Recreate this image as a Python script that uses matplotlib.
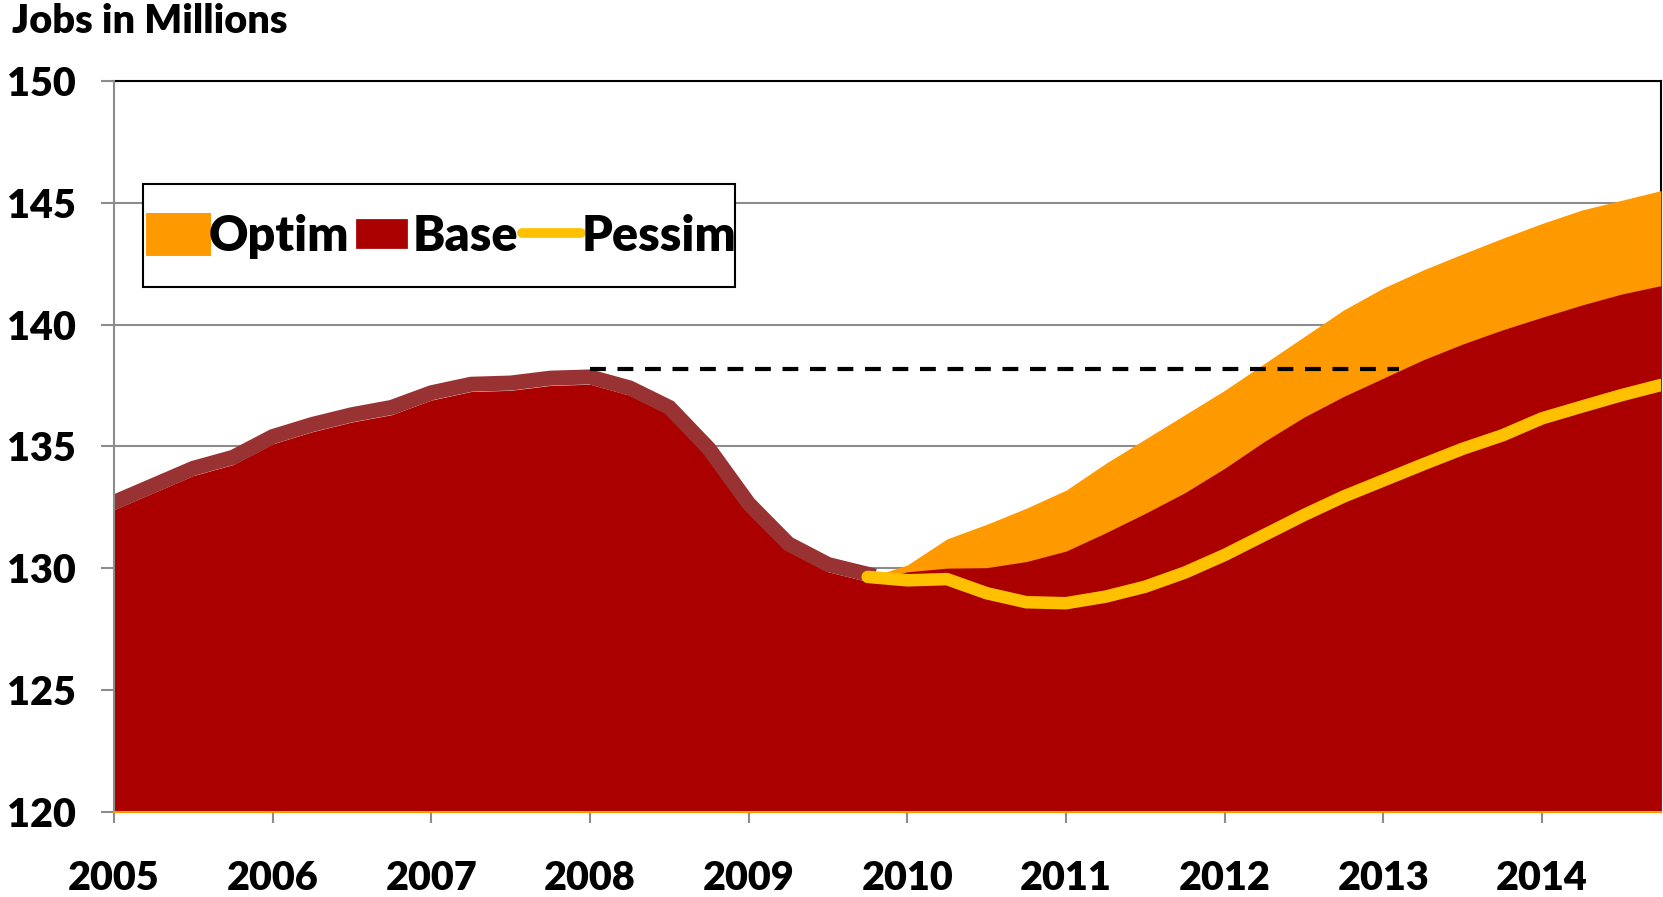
import numpy as np
import matplotlib.pyplot as plt
from matplotlib.patches import Patch, Rectangle, Shadow
from matplotlib.lines import Line2D

plt.rcParams['font.family'] = ['Lato', 'DejaVu Sans']
plt.rcParams['font.weight'] = 'heavy'

# quarterly data, 2005Q1 .. 2014Q4
quarters = 2005 + 0.25 * np.arange(40)

# base case (red area)
base = [132.4, 133.1, 133.8, 134.25, 135.1, 135.6, 136.0, 136.3, 136.9, 137.25,
        137.3, 137.5, 137.55, 137.1, 136.3, 134.6, 132.35, 130.7, 129.85, 129.45,
        129.85, 130.0, 130.02, 130.27, 130.7, 131.45, 132.25, 133.1, 134.1, 135.2,
        136.2, 137.05, 137.8, 138.55, 139.2, 139.78, 140.3, 140.8, 141.25, 141.6]

# actual history line (drawn on top of the area, up to 2009Q4)
hist = [132.7, 133.4, 134.1, 134.55, 135.4, 135.9, 136.3, 136.6, 137.2, 137.55,
        137.6, 137.8, 137.85, 137.4, 136.6, 134.9, 132.65, 131.0, 130.15, 129.75]

# forecasts from 2009Q4 on
fc_quarters = quarters[19:]
optim = [129.6, 130.13, 131.2, 131.8, 132.46, 133.2, 134.3, 135.3, 136.3, 137.3,
         138.4, 139.5, 140.6, 141.5, 142.24, 142.9, 143.54, 144.15, 144.7, 145.1, 145.5]
pessim = [129.64, 129.5, 129.55, 128.97, 128.6, 128.56, 128.83, 129.24, 129.82, 130.54,
          131.36, 132.18, 132.94, 133.6, 134.26, 134.9, 135.45, 136.15, 136.63, 137.1, 137.52]

# previous peak level
peak_x = [2008.0, 2013.1]
peak_y = [138.18, 138.18]

years = list(range(2005, 2015))
yticks = [120, 125, 130, 135, 140, 145, 150]

c_opt = '#FF9900'
c_base = '#AA0000'
c_hist = '#993333'
c_pes = '#FFC000'
grid_c = '#8C8C8C'

fig = plt.figure(figsize=(16.63, 8.97), dpi=100)
ax = fig.add_axes([114/1663, 1 - 811.7/897, (1661-114)/1663, 730.7/897])

ax.fill_between(fc_quarters, 120, optim, color=c_opt, lw=0, zorder=2)
ax.fill_between(quarters, 120, base, color=c_base, lw=0, zorder=2.1)
ax.plot(quarters[:20], hist, color=c_hist, lw=10.8, solid_joinstyle='miter', zorder=3)
ax.plot(fc_quarters, pessim, color=c_pes, lw=9, solid_capstyle='round',
        solid_joinstyle='round', zorder=3.1)
ax.plot(peak_x, peak_y, color='black', lw=3, dashes=(3.8, 2.8), zorder=3.2)

ax.set_xlim(2005, 2014.75)
ax.set_ylim(120, 150)
ax.set_xticks(years)
ax.set_xticklabels([str(y) for y in years])
ax.set_yticks(yticks)
ax.tick_params(axis='y', direction='out', length=9.5, width=1.5, color=grid_c,
               labelsize=28.5, pad=18)
ax.tick_params(axis='x', direction='out', length=8, width=1.5, color=grid_c,
               labelsize=28.5, pad=27)
for lab in ax.get_xticklabels() + ax.get_yticklabels():
    lab.set_fontweight('heavy')

ax.grid(axis='y', color=grid_c, lw=1.5, zorder=0)
ax.set_axisbelow(True)

ax.spines['left'].set_color(grid_c)
ax.spines['left'].set_linewidth(1.5)
ax.spines['left'].set_zorder(4)
ax.spines['bottom'].set_color(c_opt)
ax.spines['bottom'].set_linewidth(1.5)
ax.spines['bottom'].set_zorder(4)
ax.spines['top'].set_color('black')
ax.spines['top'].set_linewidth(1.5)
ax.spines['right'].set_color('black')
ax.spines['right'].set_linewidth(1.5)
ax.spines['right'].set_zorder(1)

# legend box drawn by hand (tight left/right, tall top/bottom)
box = Rectangle((0.01875, 0.7174), 0.3827, 0.1423, transform=ax.transAxes,
                facecolor='white', edgecolor='black', lw=1.5, zorder=4.9)
shadow = Shadow(box, 3, -3, facecolor='0.85', alpha=0.6, zorder=4.8, lw=0)
ax.add_patch(shadow)
ax.add_patch(box)

handles = [Patch(facecolor=c_opt, edgecolor=c_opt, lw=5, joinstyle='round'),
           Patch(facecolor=c_base, edgecolor='white', lw=4.5),
           Line2D([], [], color=c_pes, lw=7, solid_capstyle='round')]
leg = ax.legend(handles, ['Optim', 'Base', 'Pessim'], ncol=3,
                loc='center left', bbox_to_anchor=(0.0225, 0.7875),
                prop={'size': 35, 'weight': 'heavy'},
                handlelength=1.2, handleheight=0.75, handletextpad=0.03,
                columnspacing=0.08, borderpad=0, borderaxespad=0,
                frameon=False)
leg.set_zorder(5)

fig.text(12/1663, 1 - 3/897, 'Jobs in Millions', fontsize=28.5, fontweight='heavy',
         ha='left', va='top')

fig.savefig('out.png', dpi=100)
